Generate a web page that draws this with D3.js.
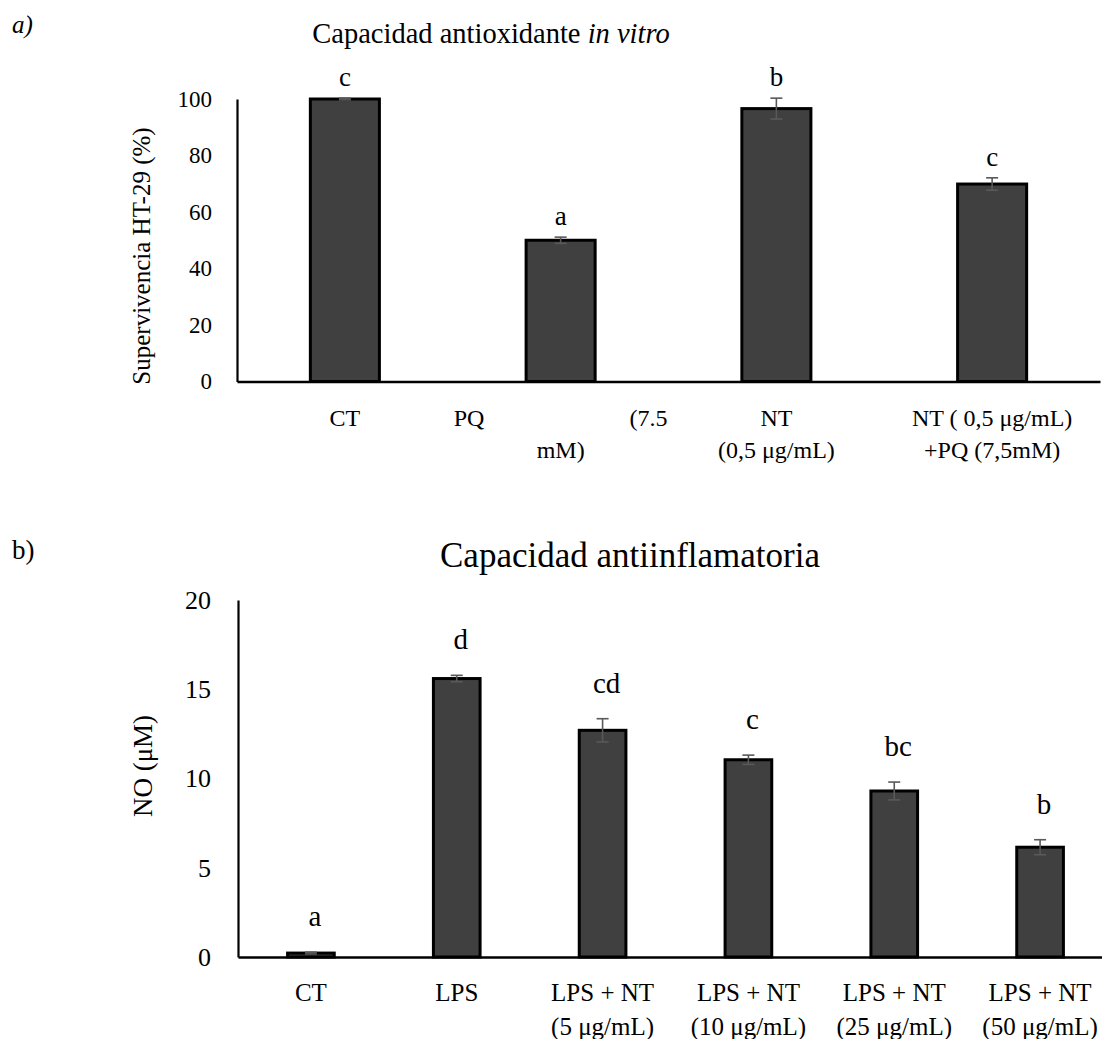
<!DOCTYPE html>
<html>
<head>
<meta charset="utf-8">
<script src="https://cdn.jsdelivr.net/npm/d3@7"></script>
<style>
  html, body { margin: 0; padding: 0; background: #fff; }
  svg { display: block; }
  text { font-family: "Liberation Serif", "Times New Roman", serif; fill: #000; }
</style>
</head>
<body>
<svg id="fig" width="1102" height="1039"></svg>
<script>
// ---- a) antioxidant capacity: HT-29 survival (%) ----
const catsA = ["CT", "PQ (7.5 mM)", "NT (0,5 μg/mL)", "NT ( 0,5 μg/mL) +PQ (7,5mM)"];
const labelLinesA = [["CT"], ["PQ (7.5", "mM)"], ["NT", "(0,5 μg/mL)"], ["NT ( 0,5 μg/mL)", "+PQ (7,5mM)"]];
const valuesA = [100, 50.0, 96.6, 69.9];
const errorsA = [0.3, 1.1, 3.7, 2.2];
const lettersA = ["c", "a", "b", "c"];
const ticksA = [0, 20, 40, 60, 80, 100];

// ---- b) anti-inflammatory capacity: NO (μM) ----
const catsB = ["CT", "LPS", "LPS + NT (5 μg/mL)", "LPS + NT (10 μg/mL)", "LPS + NT (25 μg/mL)", "LPS + NT (50 μg/mL)"];
const labelLinesB = [["CT"], ["LPS"], ["LPS + NT", "(5 μg/mL)"], ["LPS + NT", "(10 μg/mL)"], ["LPS + NT", "(25 μg/mL)"], ["LPS + NT", "(50 μg/mL)"]];
const valuesB = [0.22, 15.6, 12.7, 11.05, 9.3, 6.15];
const errorsB = [0.05, 0.18, 0.65, 0.26, 0.5, 0.42];
const lettersB = ["a", "d", "cd", "c", "bc", "b"];
const ticksB = [0, 5, 10, 15, 20];

const svg = d3.select("#fig");
svg.append("rect").attr("width", 1102).attr("height", 1039).attr("fill", "#fff");

const BAR_FILL = "#404040";
const ERR_COLOR = "#595959";

function drawPanel(opt) {
  const g = svg.append("g");
  const x = d3.scaleBand().domain(opt.cats).range(opt.xRange)
    .paddingInner(0.68).paddingOuter(0.34);
  const y = d3.scaleLinear().domain(opt.yDomain).range(opt.yRange);

  // bars
  g.selectAll("rect.bar").data(opt.values).join("rect")
    .attr("class", "bar")
    .attr("x", (d, i) => x(opt.cats[i]))
    .attr("width", x.bandwidth())
    .attr("y", d => y(d))
    .attr("height", d => y(0) - y(d))
    .attr("fill", BAR_FILL)
    .attr("stroke", "#000")
    .attr("stroke-width", 3);

  // error bars
  const cap = 6;
  const eg = g.selectAll("g.err").data(opt.values).join("g").attr("class", "err")
    .attr("stroke", ERR_COLOR).attr("stroke-width", 1.6);
  eg.each(function (d, i) {
    const cx = x(opt.cats[i]) + x.bandwidth() / 2;
    const e = opt.errors[i];
    const s = d3.select(this);
    s.append("line").attr("x1", cx).attr("x2", cx).attr("y1", y(d + e)).attr("y2", y(d - e));
    s.append("line").attr("x1", cx - cap).attr("x2", cx + cap).attr("y1", y(d + e)).attr("y2", y(d + e));
    s.append("line").attr("x1", cx - cap).attr("x2", cx + cap).attr("y1", y(d - e)).attr("y2", y(d - e));
  });

  // significance letters
  g.selectAll("text.letter").data(opt.letters).join("text")
    .attr("class", "letter")
    .attr("x", (d, i) => x(opt.cats[i]) + x.bandwidth() / 2 + opt.letterDx)
    .attr("y", (d, i) => y(opt.values[i] + opt.errors[i]) - opt.letterGap)
    .attr("text-anchor", "middle")
    .attr("font-size", opt.letterSize)
    .text(d => d);

  // y axis
  const ya = g.append("g").attr("transform", `translate(${opt.xRange[0]},0)`)
    .call(d3.axisLeft(y).tickValues(opt.ticks).tickSize(0).tickPadding(opt.tickPad));
  ya.select(".domain").attr("stroke", "#000").attr("stroke-width", 2.2);
  ya.selectAll(".tick text").attr("font-size", opt.tickSize)
    .attr("font-family", '"Liberation Serif", serif').attr("fill", "#000");

  // x axis baseline with multi-line category labels
  const xa = g.append("g").attr("transform", `translate(0,${y(0)})`)
    .call(d3.axisBottom(x).tickSize(0).tickFormat(""));
  xa.select(".domain").attr("stroke", "#000").attr("stroke-width", 2.6);
  xa.selectAll(".tick text").remove();

  opt.cats.forEach((c, i) => {
    const cx = x(c) + x.bandwidth() / 2;
    opt.lines[i].forEach((line, j) => {
      const yy = y(0) + opt.labelY0 + j * opt.labelDy;
      const justify = opt.justified.has(c) && j < opt.lines[i].length - 1;
      if (justify) {
        // justified line: words spread over the full category step
        const words = line.split(" ");
        const half = x.step() / 2;
        g.append("text").attr("x", cx - half + 1).attr("y", yy)
          .attr("text-anchor", "start").attr("font-size", opt.labelSize).text(words[0]);
        g.append("text").attr("x", cx + half - 1).attr("y", yy)
          .attr("text-anchor", "end").attr("font-size", opt.labelSize).text(words.slice(1).join(" "));
      } else {
        g.append("text").attr("x", cx).attr("y", yy)
          .attr("text-anchor", "middle").attr("font-size", opt.labelSize).text(line);
      }
    });
  });

  // y-axis title
  g.append("text")
    .attr("transform", `translate(${opt.yTitleX},${opt.yTitleY}) rotate(-90)`)
    .attr("text-anchor", "middle")
    .attr("dominant-baseline", "central")
    .attr("font-size", opt.yTitleSize)
    .text(opt.yTitle);
}

// panel a
drawPanel({
  cats: catsA, lines: labelLinesA, values: valuesA, errors: errorsA, letters: lettersA,
  ticks: ticksA, yDomain: [0, 100], yRange: [381.5, 99], xRange: [237, 1100],
  letterGap: 12, letterDx: 0, letterSize: 27, tickSize: 23, tickPad: 25,
  labelSize: 24, labelY0: 44, labelDy: 32, justified: new Set(["PQ (7.5 mM)"]),
  yTitle: "Supervivencia HT-29 (%)", yTitleX: 141, yTitleY: 256, yTitleSize: 25
});

// panel b
drawPanel({
  cats: catsB, lines: labelLinesB, values: valuesB, errors: errorsB, letters: lettersB,
  ticks: ticksB, yDomain: [0, 20], yRange: [957, 600], xRange: [238, 1113],
  letterGap: 26, letterDx: 4, letterSize: 29, tickSize: 26, tickPad: 27,
  labelSize: 25, labelY0: 44, labelDy: 34, justified: new Set(),
  yTitle: "NO (μM)", yTitleX: 143, yTitleY: 766, yTitleSize: 27
});

// panel tags and titles
svg.append("text").attr("x", 12).attr("y", 33).attr("font-size", 25)
  .attr("font-style", "italic").text("a)");
svg.append("text").attr("x", 12).attr("y", 559).attr("font-size", 27).text("b)");

const t1 = svg.append("text").attr("x", 491).attr("y", 43).attr("text-anchor", "middle")
  .attr("font-size", 28.5);
t1.append("tspan").text("Capacidad antioxidante ");
t1.append("tspan").attr("font-style", "italic").text("in vitro");

svg.append("text").attr("x", 630).attr("y", 567).attr("text-anchor", "middle")
  .attr("font-size", 35).text("Capacidad antiinflamatoria");
</script>
</body>
</html>
